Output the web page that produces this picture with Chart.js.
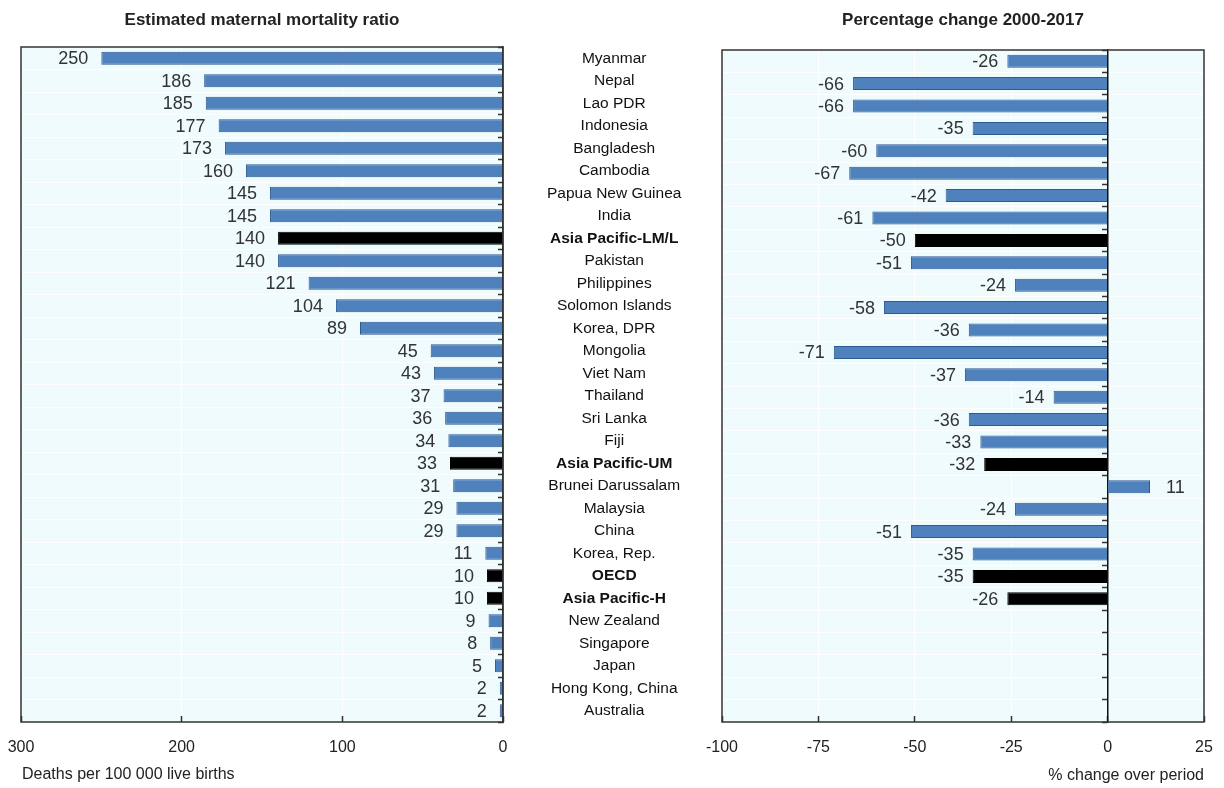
<!DOCTYPE html>
<html>
<head>
<meta charset="utf-8">
<script src="https://cdn.jsdelivr.net/npm/chart.js@4.4.1/dist/chart.umd.min.js"></script>
<style>
  html, body { margin: 0; padding: 0; background: #fff; }
  #wrap { position: relative; width: 1224px; height: 788px; }
  #leftBox { position: absolute; left: 0; top: 0; width: 712px; height: 788px; }
  #rightBox { position: absolute; left: 690px; top: 0; width: 534px; height: 788px; }
</style>
</head>
<body>
<div id="wrap">
  <div id="leftBox"><canvas id="mmrCanvas"></canvas></div>
  <div id="rightBox"><canvas id="changeCanvas"></canvas></div>
</div>
<script>
const countries = [
  "Myanmar", "Nepal", "Lao PDR", "Indonesia", "Bangladesh", "Cambodia", "Papua New Guinea", "India",
  "Asia Pacific-LM/L", "Pakistan", "Philippines", "Solomon Islands", "Korea, DPR", "Mongolia", "Viet Nam",
  "Thailand", "Sri Lanka", "Fiji", "Asia Pacific-UM", "Brunei Darussalam", "Malaysia", "China", "Korea, Rep.",
  "OECD", "Asia Pacific-H", "New Zealand", "Singapore", "Japan", "Hong Kong, China", "Australia"
];
const mmrValues = [250, 186, 185, 177, 173, 160, 145, 145, 140, 140, 121, 104, 89, 45, 43, 37, 36, 34, 33, 31, 29, 29, 11, 10, 10, 9, 8, 5, 2, 2];
const changeValues = [-26, -66, -66, -35, -60, -67, -42, -61, -50, -51, -24, -58, -36, -71, -37, -14, -36, -33, -32, 11, -24, -51, -35, -35, -26, null, null, null, null, null];
const aggregates = ["Asia Pacific-LM/L", "Asia Pacific-UM", "OECD", "Asia Pacific-H"];

const FONT = '"Liberation Sans Narrow", "Arial Narrow", "Liberation Sans", Arial, sans-serif';
const BLUE = "#4F81BD";
const BLUE_EDGE = "#2C5A92";
const PLOT_BG = "#EFFBFD";
const FRAME = "#333";

const isAgg = (name) => aggregates.includes(name);
const barColors = countries.map(c => isAgg(c) ? "#000" : BLUE);
const edgeColors = countries.map(c => isAgg(c) ? "#000" : BLUE_EDGE);

// no extra room for the end tick labels: chart area is set by layout padding
const noEdgePadding = (s) => { s.paddingLeft = 0; s.paddingRight = 0; s.paddingTop = 0; s.paddingBottom = 0; };

// background, frame, panel title, axis note and value labels
const panelPlugin = {
  id: "panel",
  beforeDraw(chart) {
    const { ctx, chartArea: a } = chart;
    ctx.save();
    ctx.fillStyle = PLOT_BG;
    ctx.fillRect(a.left, a.top, a.right - a.left, a.bottom - a.top);
    ctx.restore();
  },
  afterDraw(chart, args, opts) {
    const { ctx, chartArea: a } = chart;
    ctx.save();
    ctx.strokeStyle = FRAME;
    ctx.lineWidth = 1.5;
    ctx.strokeRect(a.left, a.top, a.right - a.left, a.bottom - a.top);

    ctx.fillStyle = "#222";
    ctx.font = "bold 17px " + FONT;
    ctx.textAlign = "center";
    ctx.textBaseline = "middle";
    ctx.fillText(opts.text, (a.left + a.right) / 2, 20);

    if (opts.note) {
      ctx.font = "16px " + FONT;
      ctx.textAlign = "left";
      ctx.fillText(opts.note, a.left + 1, 775);
    }

    ctx.font = "18px " + FONT;
    ctx.fillStyle = "#333";
    const meta = chart.getDatasetMeta(0);
    const values = chart.data.datasets[0].data;
    meta.data.forEach((bar, i) => {
      const v = values[i];
      if (v === null || v === undefined) return;
      const leftward = opts.reversed ? true : v < 0;
      ctx.textAlign = leftward ? "right" : "left";
      const x = leftward ? Math.min(bar.x, bar.base) - opts.gap : Math.max(bar.x, bar.base) + 16;
      ctx.fillText(String(v), x, bar.y + 1);
    });
    ctx.restore();
  }
};

const tickFont = { family: FONT, size: 16 };
const titleFont = { family: FONT, size: 16 };

new Chart(document.getElementById("mmrCanvas"), {
  type: "bar",
  data: {
    labels: countries,
    datasets: [{
      data: mmrValues,
      backgroundColor: barColors,
      borderColor: edgeColors,
      borderWidth: 1,
      barPercentage: 0.58,
      categoryPercentage: 1,
    }]
  },
  options: {
    indexAxis: "y",
    responsive: true,
    maintainAspectRatio: false,
    animation: false,
    layout: { padding: { left: 21, top: 47, right: 0, bottom: 0 } },
    plugins: {
      legend: { display: false },
      tooltip: { enabled: false },
      panel: { text: "Estimated maternal mortality ratio", note: "Deaths per 100 000 live births", reversed: true, gap: 13 },
    },
    scales: {
      x: {
        reverse: true, min: 0, max: 300,
        ticks: { stepSize: 100, color: "#222", font: tickFont, padding: 22 },
        grid: { color: "#fff", tickLength: -6, tickColor: FRAME, tickWidth: 1.5 },
        border: { display: false },
        afterFit: (s) => { s.height = 66; noEdgePadding(s); },
      },
      y: {
        position: "right",
        ticks: {
          crossAlign: "center",
          padding: 49,
          color: "#111",
          font: (c) => ({ family: FONT, size: 15.5, weight: isAgg(countries[c.index]) ? "bold" : "normal" }),
        },
        grid: { color: "#fff", tickLength: -5, tickColor: FRAME, tickWidth: 1.5 },
        border: { color: FRAME, width: 1.5 },
        afterFit: (s) => { s.width = 209; noEdgePadding(s); },
      }
    }
  },
  plugins: [panelPlugin]
});

new Chart(document.getElementById("changeCanvas"), {
  type: "bar",
  data: {
    labels: countries,
    datasets: [{
      data: changeValues,
      backgroundColor: barColors,
      borderColor: edgeColors,
      borderWidth: 1,
      barPercentage: 0.58,
      categoryPercentage: 1,
    }]
  },
  options: {
    indexAxis: "y",
    responsive: true,
    maintainAspectRatio: false,
    animation: false,
    layout: { padding: { left: 32, top: 50, right: 20, bottom: 0 } },
    plugins: {
      legend: { display: false },
      tooltip: { enabled: false },
      panel: { text: "Percentage change 2000-2017", reversed: false, gap: 9 },
    },
    scales: {
      x: {
        min: -100, max: 25,
        ticks: { stepSize: 25, color: "#222", font: tickFont, padding: 22 },
        grid: { color: "#fff", tickLength: -6, tickColor: FRAME, tickWidth: 1.5 },
        border: { display: false },
        title: { display: true, text: "% change over period", align: "end", color: "#222", font: titleFont, padding: { top: 0, bottom: 3 } },
        afterFit: (s) => { s.height = 66; noEdgePadding(s); },
      },
      y: {
        position: { x: 0 },
        ticks: { display: false },
        grid: { color: "#fff", tickLength: 5, tickColor: FRAME, tickWidth: 1.5 },
        border: { color: "#111", width: 1.5 },
        afterFit: noEdgePadding,
      }
    }
  },
  plugins: [panelPlugin]
});
</script>
</body>
</html>
